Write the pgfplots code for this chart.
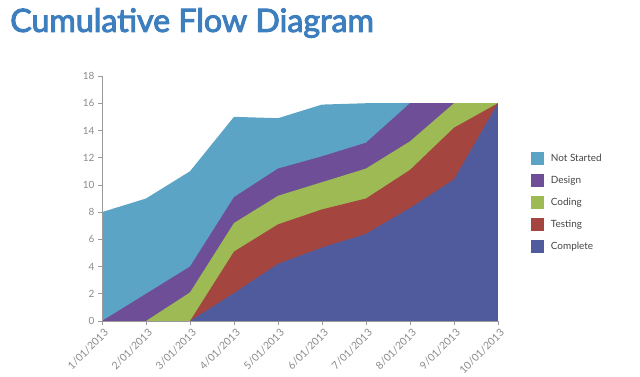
\documentclass[border=0pt]{standalone}
\usepackage{pgfplots}
\pgfplotsset{compat=1.18}
\usepackage{fontspec}
\setmainfont{Lato}
\newfontfamily\titlefont[FakeBold=3]{Lato}
\definecolor{cNS}{HTML}{5CA4C5}
\definecolor{cDE}{HTML}{6E4F97}
\definecolor{cCO}{HTML}{9DBA55}
\definecolor{cTE}{HTML}{A4463F}
\definecolor{cCM}{HTML}{4F5B9C}
\definecolor{ctitle}{HTML}{3D7EBF}
\definecolor{cax}{HTML}{9A9A9A}
\definecolor{ctick}{HTML}{8A8A8A}
\definecolor{cleg}{HTML}{444444}
\begin{document}
\begin{tikzpicture}
\useasboundingbox (0,0) rectangle (640bp,-377bp);
\node[anchor=west,text=ctitle,font=\titlefont\fontsize{32.3}{36}\selectfont,inner sep=0pt] at (10bp,-23bp) {Cumulative Flow Diagram};
\begin{axis}[
  scale only axis, width=396bp, height=245bp,
  at={(102bp,-321bp)}, anchor=south west,
  xmin=0, xmax=9, ymin=0, ymax=18,
  xtick={0,...,9},
  xticklabels={1/01/2013,2/01/2013,3/01/2013,4/01/2013,5/01/2013,6/01/2013,7/01/2013,8/01/2013,9/01/2013,10/01/2013},
  ytick={0,2,...,18},
  axis x line*=bottom, axis y line*=left,
  axis line style={cax,line width=0.8pt,-},
  tick style={cax,line width=0.6pt},
  tick align=outside, major tick length=4bp,
  x tick label style={rotate=45,anchor=north east,font=\fontsize{10.5}{12}\selectfont,text=ctick,inner sep=1pt,yshift=-2bp},
  y tick label style={font=\fontsize{10}{12}\selectfont,text=ctick},
  /pgf/number format/assume math mode=true,
  legend style={at={(1.075,0.697)},anchor=north west,draw=none,fill=none,
    font=\fontsize{10}{12}\selectfont,row sep=9bp,text=cleg,
    legend cell align=left},
  legend image code/.code={\fill[#1] (0bp,-6.5bp) rectangle (13bp,6.5bp);},
  axis on top,
]
\addplot[draw=none,fill=cNS] coordinates {(0,8) (1,9) (2,11) (3,15) (4,14.9) (5,15.9) (6,16) (7,16) (8,16) (9,16)} \closedcycle;
\addlegendentry{\hspace{5bp}Not Started}
\addplot[draw=none,fill=cDE] coordinates {(0,0) (1,2) (2,4) (3,9.1) (4,11.2) (5,12.1) (6,13.1) (7,16) (8,16) (9,16)} \closedcycle;
\addlegendentry{\hspace{5bp}Design}
\addplot[draw=none,fill=cCO] coordinates {(0,0) (1,0) (2,2.1) (3,7.2) (4,9.2) (5,10.2) (6,11.2) (7,13.2) (8,16) (9,16)} \closedcycle;
\addlegendentry{\hspace{5bp}Coding}
\addplot[draw=none,fill=cTE] coordinates {(0,0) (1,0) (2,0) (3,5.1) (4,7.1) (5,8.2) (6,9.0) (7,11.1) (8,14.2) (9,16)} \closedcycle;
\addlegendentry{\hspace{5bp}Testing}
\addplot[draw=none,fill=cCM] coordinates {(0,0) (1,0) (2,0) (3,2.05) (4,4.2) (5,5.4) (6,6.4) (7,8.3) (8,10.4) (9,16)} \closedcycle;
\addlegendentry{\hspace{5bp}Complete}
\end{axis}
\end{tikzpicture}
\end{document}
